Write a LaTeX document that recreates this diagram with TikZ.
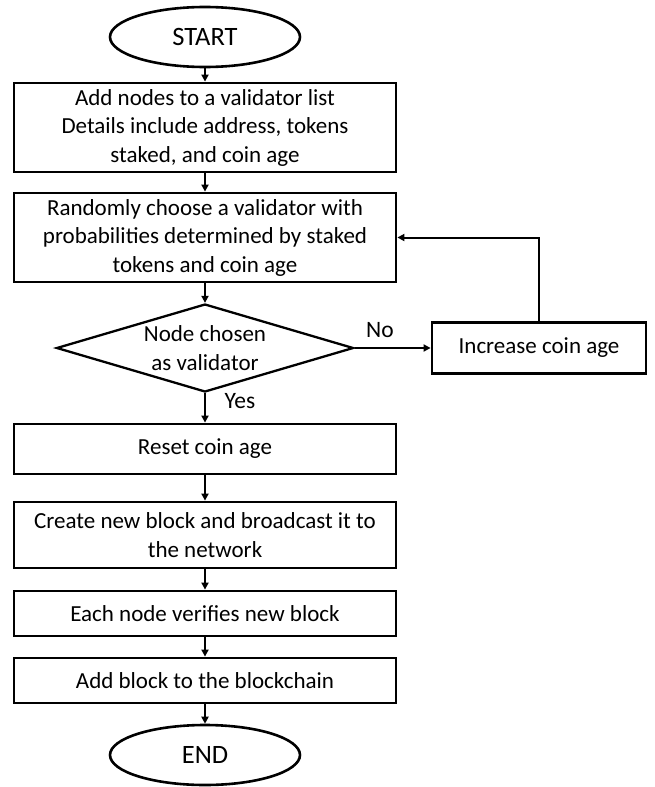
\documentclass[tikz,border=0pt]{standalone}
\usepackage{fontspec}
\setmainfont{Carlito}
\usetikzlibrary{shapes.geometric,arrows.meta}
\begin{document}
\begin{tikzpicture}[x=1pt,y=-1pt,
  every node/.style={font=\fontsize{23}{28.5}\selectfont, inner sep=0pt, align=center},
  terminal/.style={draw, ellipse, line width=2.6pt, minimum width=190pt, minimum height=60pt,
    font=\fontsize{26.5}{30}\selectfont},
  stepbox/.style={draw, rectangle, line width=2.8pt, minimum width=382pt},
  sidebox/.style={draw, rectangle, line width=2.8pt, minimum width=214pt, minimum height=51pt},
  decision/.style={draw, diamond, line width=2.3pt, aspect=3.375, minimum width=297pt, minimum height=88pt},
  flow/.style={line width=2pt, -{Triangle[length=7pt,width=7pt]}},
  tag/.style={font=\fontsize{23.5}{26}\selectfont}
]
\useasboundingbox (0,0) rectangle (654,787);

\node[terminal] (start) at (205,37) {START};
\node[stepbox, minimum height=89pt] (list) at (205,127.5)
  {Add nodes to a validator list\\Details include address, tokens\\staked, and coin age};
\node[stepbox, minimum height=89pt] (choose) at (205,237.5)
  {Randomly choose a validator with\\probabilities determined by staked\\tokens and coin age};
\node[decision] (chosen) at (205,348) {Node chosen\\as validator};
\node[sidebox] (incr) at (539,348) {Increase coin age};
\node[stepbox, minimum height=50pt] (reset) at (205,449) {Reset coin age};
\node[stepbox, minimum height=66pt] (create) at (205,535)
  {Create new block and broadcast it to\\the network};
\node[stepbox, minimum height=45pt] (verify) at (205,613.5) {Each node verifies new block};
\node[stepbox, minimum height=45pt] (add) at (205,680.5) {Add block to the blockchain};
\node[terminal] (end) at (205,755) {END};

\draw[flow] (start) -- (list);
\draw[flow] (list) -- (choose);
\draw[flow] (choose) -- (chosen);
\draw[flow] (chosen) -- (reset);
\draw[flow] (reset) -- (create);
\draw[flow] (create) -- (verify);
\draw[flow] (verify) -- (add);
\draw[flow] (add) -- (end);
\draw[flow] (chosen.east) -- (incr.west);
\draw[flow] (incr.north) |- (choose.east);

\node[tag] (no) at (380,330) {No};
\node[tag] (yes) at (240,401) {Yes};
\end{tikzpicture}
\end{document}
